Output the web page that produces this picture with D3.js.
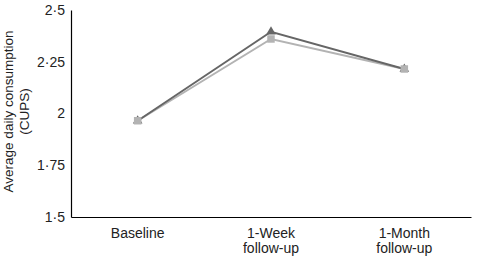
<!DOCTYPE html>
<html>
<head>
<meta charset="utf-8">
<script src="https://cdn.jsdelivr.net/npm/d3@7"></script>
<style>
body{margin:0;background:#fff;}
svg{display:block;font-family:"Liberation Sans",Arial,sans-serif;}
</style>
</head>
<body>
<div id="chart"></div>
<script>
// data
var categories = ["Baseline", "1-Week\nfollow-up", "1-Month\nfollow-up"];
var seriesDark = [1.965, 2.395, 2.215];
var seriesLight = [1.965, 2.36, 2.215];
var yTicks = [1.5, 1.75, 2, 2.25, 2.5];
var yTickLabels = ["1·5", "1·75", "2", "2·25", "2·5"];

var W = 477, H = 258;
var margin = {left: 71, right: 6, top: 10, bottom: 41};
var width = W - margin.left - margin.right;
var height = H - margin.top - margin.bottom;

var svg = d3.select("#chart").append("svg")
	.attr("width", W)
	.attr("height", H);

var g = svg.append("g")
	.attr("transform", "translate(" + margin.left + "," + margin.top + ")");

var xScale = d3.scalePoint()
	.domain(categories)
	.range([0, width])
	.padding(0.5);

var yScale = d3.scaleLinear()
	.domain([1.5, 2.5])
	.range([height, 0]);

// y axis
var yAxis = d3.axisLeft(yScale)
	.tickValues(yTicks)
	.tickSize(0)
	.tickPadding(6)
	.tickFormat(function(d, i){ return yTickLabels[i]; });
var yg = g.append("g").call(yAxis);
yg.select(".domain").attr("stroke", "#000").attr("stroke-width", 1.2);
yg.selectAll("text").attr("font-size", "14px").attr("fill", "#222");

// x axis
var xAxis = d3.axisBottom(xScale).tickSize(0).tickFormat("");
var xg = g.append("g").attr("transform", "translate(0," + height + ")").call(xAxis);
xg.select(".domain").attr("stroke", "#000").attr("stroke-width", 1.2);

// x labels, two lines
categories.forEach(function(c){
	var lines = c.split("\n");
	var t = g.append("text")
		.attr("x", xScale(c))
		.attr("y", height + 21)
		.attr("text-anchor", "middle")
		.attr("font-size", "14px")
		.attr("fill", "#222");
	lines.forEach(function(l, i){
		t.append("tspan").attr("x", xScale(c)).attr("dy", i == 0 ? 0 : 15).text(l);
	});
});

// y title
var yt = svg.append("text")
	.attr("transform", "translate(13," + (margin.top + height/2 - 2) + ") rotate(-90)")
	.attr("text-anchor", "middle")
	.attr("font-size", "13.5px")
	.attr("fill", "#222");
yt.append("tspan").attr("x", 0).attr("dy", 0).text("Average daily consumption");
yt.append("tspan").attr("x", 0).attr("dy", 16).text("(CUPS)");

// lines
var line = d3.line()
	.x(function(d, i){ return xScale(categories[i]); })
	.y(function(d){ return yScale(d); });

g.append("path")
	.datum(seriesLight)
	.attr("d", line)
	.attr("fill", "none")
	.attr("stroke", "#b3b3b3")
	.attr("stroke-width", 2);

g.append("path")
	.datum(seriesDark)
	.attr("d", line)
	.attr("fill", "none")
	.attr("stroke", "#666")
	.attr("stroke-width", 2);

// markers
var tri = d3.symbol().type(d3.symbolTriangle).size(40);
var sq = d3.symbol().type(d3.symbolSquare).size(56);

g.selectAll(".tri").data(seriesDark).enter().append("path")
	.attr("class", "tri")
	.attr("d", tri)
	.attr("transform", function(d, i){ return "translate(" + xScale(categories[i]) + "," + yScale(d) + ")"; })
	.attr("fill", "#666");

g.selectAll(".sq").data(seriesLight).enter().append("path")
	.attr("class", "sq")
	.attr("d", sq)
	.attr("transform", function(d, i){ return "translate(" + xScale(categories[i]) + "," + yScale(d) + ")"; })
	.attr("fill", "#b3b3b3");
</script>
</body>
</html>
